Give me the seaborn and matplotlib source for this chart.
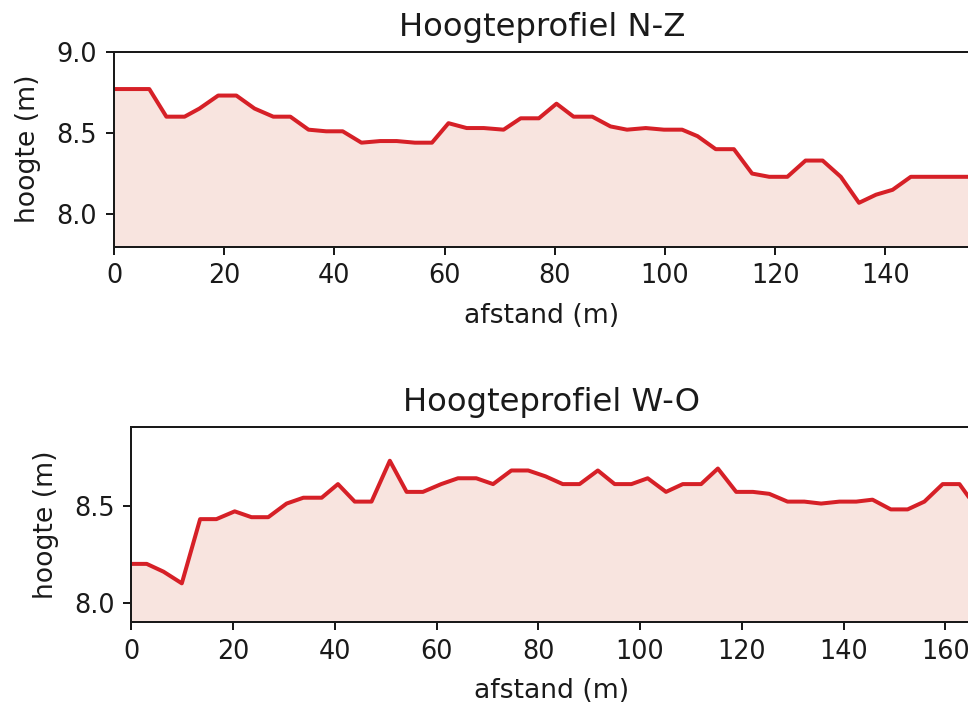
import numpy as np
import pandas as pd
import matplotlib
matplotlib.use('Agg')
import matplotlib.pyplot as plt
import seaborn as sns

# hoogteprofiel noord-zuid
afstand_nz = [0, 3.2, 6.4, 9.5, 12.8, 15.5, 18.9, 22.2, 25.5, 28.9, 32.0, 35.3,
              38.5, 41.5, 44.9, 48.3, 51.3, 54.6, 57.7, 60.7, 64.0, 67.1, 70.7,
              73.8, 77.1, 80.3, 83.4, 86.8, 90.1, 93.1, 96.5, 99.8, 103.1, 105.9,
              109.2, 112.5, 115.8, 118.9, 122.2, 125.5, 128.6, 131.9, 135.2,
              138.3, 141.3, 144.6, 148.0, 151.3, 155.0]
hoogte_nz = [8.77, 8.77, 8.77, 8.60, 8.60, 8.65, 8.73, 8.73, 8.65, 8.60, 8.60, 8.52,
             8.51, 8.51, 8.44, 8.45, 8.45, 8.44, 8.44, 8.56, 8.53, 8.53, 8.52,
             8.59, 8.59, 8.68, 8.60, 8.60, 8.54, 8.52, 8.53, 8.52, 8.52, 8.48,
             8.40, 8.40, 8.25, 8.23, 8.23, 8.33, 8.33, 8.23, 8.07,
             8.12, 8.15, 8.23, 8.23, 8.23, 8.23]

# hoogteprofiel west-oost
afstand_wo = [0, 3.0, 6.3, 9.9, 13.5, 16.7, 20.3, 23.6, 26.9, 30.5, 33.8, 37.4,
              40.6, 43.9, 47.2, 50.8, 54.1, 57.3, 60.9, 64.2, 67.8, 71.1, 74.7,
              78.0, 81.4, 84.8, 88.1, 91.7, 95.0, 98.3, 101.5, 105.1, 108.4,
              112.0, 115.3, 118.9, 122.2, 125.4, 129.0, 132.3, 135.6, 139.2,
              142.5, 145.7, 149.3, 152.6, 155.9, 159.5, 162.8, 165.0]
hoogte_wo = [8.20, 8.20, 8.16, 8.10, 8.43, 8.43, 8.47, 8.44, 8.44, 8.51, 8.54, 8.54,
             8.61, 8.52, 8.52, 8.73, 8.57, 8.57, 8.61, 8.64, 8.64, 8.61, 8.68,
             8.68, 8.65, 8.61, 8.61, 8.68, 8.61, 8.61, 8.64, 8.57, 8.61,
             8.61, 8.69, 8.57, 8.57, 8.56, 8.52, 8.52, 8.51, 8.52,
             8.52, 8.53, 8.48, 8.48, 8.52, 8.61, 8.61, 8.53]

lijn = '#d62027'
vulling = '#f8e4df'
tekst = '#1a1a1a'

sns.set_style('ticks')
plt.rcParams['font.family'] = ['DejaVu Sans']

fig = plt.figure(figsize=(6.05, 4.4), dpi=160)
ax1 = fig.add_axes([0.1178, 0.6496, 0.8840, 0.2770])
ax2 = fig.add_axes([0.1358, 0.1161, 0.8680, 0.2778])

def profiel(ax, x, y, titel, ylim, xmax, yticks):
    df = pd.DataFrame({'afstand': x, 'hoogte': y})
    ax.fill_between(df['afstand'], df['hoogte'], ylim[0], color=vulling, lw=0)
    sns.lineplot(data=df, x='afstand', y='hoogte', ax=ax, color=lijn, lw=1.8)
    ax.set_xlim(0, xmax)
    ax.set_ylim(*ylim)
    ax.set_yticks(yticks)
    ax.set_xticks(np.arange(0, xmax, 20))
    ax.set_title(titel, fontsize=14.5, color=tekst, pad=7)
    ax.set_xlabel('afstand (m)', fontsize=12, color=tekst, labelpad=6)
    ax.set_ylabel('hoogte (m)', fontsize=12, color=tekst, labelpad=7)
    ax.tick_params(labelsize=11.5, colors=tekst, width=0.9, length=3.5, pad=4)
    for s in ax.spines.values():
        s.set_color(tekst)
        s.set_linewidth(0.9)
    ax.spines['right'].set_visible(False)

profiel(ax1, afstand_nz, hoogte_nz, 'Hoogteprofiel N-Z', (7.8, 9.0), 155.3, [8.0, 8.5, 9.0])
profiel(ax2, afstand_wo, hoogte_wo, 'Hoogteprofiel W-O', (7.9, 8.905), 165.2, [8.0, 8.5])

fig.savefig('out.png', dpi=160)
